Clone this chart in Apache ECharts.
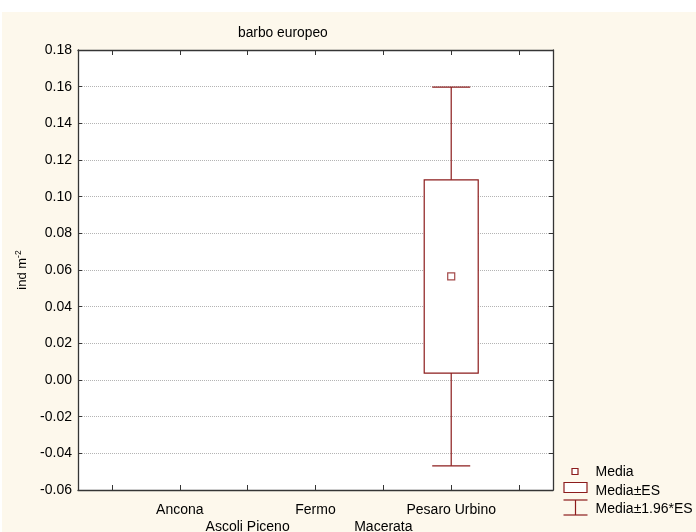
<!DOCTYPE html>
<html>
<head>
<meta charset="utf-8">
<script src="https://cdn.jsdelivr.net/npm/echarts@6/dist/echarts.min.js"></script>
<style>
  html, body { margin: 0; padding: 0; background: #ffffff; }
  #chart { width: 696px; height: 532px; }
</style>
</head>
<body>
<div id="chart"></div>
<script>
// Province names along the x axis
const categories = ['Ancona', 'Ascoli Piceno', 'Fermo', 'Macerata', 'Pesaro Urbino'];
// Mean density (ind m^-2) per province; null where no barbel was recorded
const meanValues = [null, null, null, null, 0.0565];
// Mean ± standard error
const seLow = [null, null, null, null, 0.0038];
const seHigh = [null, null, null, null, 0.1092];
// Mean ± 1.96 * standard error
const ciLow = [null, null, null, null, -0.0468];
const ciHigh = [null, null, null, null, 0.1598];
// Y axis range and step
const yMin = -0.06, yMax = 0.18, yStep = 0.02;

const RED = '#8c1c1c';
const FONT = 'Liberation Sans, Arial, sans-serif';

// Axis slots: one blank slot on each side of the provinces
const axisSlots = [''].concat(categories, ['']);
const offset = 1;

const boxData = categories.map((c, i) => [i + offset, seLow[i], seHigh[i]]).filter(d => d[1] != null);
const whiskerData = categories.map((c, i) => [i + offset, ciLow[i], ciHigh[i]]).filter(d => d[1] != null);
const meanData = categories.map((c, i) => [i + offset, meanValues[i]]).filter(d => d[1] != null);

const chart = echarts.init(document.getElementById('chart'));

const commonY = {
  type: 'value', min: yMin, max: yMax, interval: yStep,
  axisLine: { show: true, onZero: false, lineStyle: { color: '#353535', width: 1.3 } },
  axisTick: { show: true, inside: true, length: 4, lineStyle: { color: '#353535', width: 1 } }
};

const commonX = {
  type: 'category', data: axisSlots, boundaryGap: true,
  axisLine: { show: true, onZero: false, lineStyle: { color: '#353535', width: 1.3 } },
  axisTick: { show: true, inside: true, length: 5, interval: 0, alignWithLabel: true, lineStyle: { color: '#353535', width: 1 } },
  splitLine: { show: false }
};

chart.setOption({
  backgroundColor: 'transparent',
  animation: false,
  textStyle: { fontFamily: FONT },
  title: {
    text: 'barbo europeo', left: 238, top: 26, padding: 0,
    textStyle: { fontSize: 13.8, fontWeight: 'normal', color: '#000', fontFamily: FONT }
  },
  grid: {
    left: 78, top: 50, width: 475, height: 440, containLabel: false, outerBoundsMode: 'none',
    show: true, backgroundColor: '#ffffff', borderWidth: 0
  },
  xAxis: [Object.assign({}, commonX, {
    position: 'bottom',
    axisLabel: {
      interval: 0, margin: 11, color: '#000', fontSize: 14, lineHeight: 17.5, fontFamily: FONT,
      formatter: (v, idx) => (idx % 2 === 0 ? '\n' + v : v)
    }
  }), Object.assign({}, commonX, {
    position: 'top', axisLabel: { show: false }
  })],
  yAxis: [Object.assign({}, commonY, {
    position: 'left',
    name: '{a|ind m}{s|-2}', nameLocation: 'middle', nameGap: 47, nameRotate: 90,
    nameTextStyle: {
      color: '#000', fontFamily: FONT,
      rich: {
        a: { fontSize: 13, color: '#000', fontFamily: FONT },
        s: { fontSize: 8.5, color: '#000', fontFamily: FONT, verticalAlign: 'top', padding: [0, 0, 8, 0] }
      }
    },
    axisLabel: { color: '#000', fontSize: 14, margin: 6, fontFamily: FONT, formatter: v => v.toFixed(2) },
    splitLine: { show: true, lineStyle: { color: '#b4b4b4', type: [1, 1], width: 1 } }
  }), Object.assign({}, commonY, {
    position: 'right', axisLabel: { show: false }, splitLine: { show: false }
  })],
  graphic: [{
    type: 'rect', z: -100, silent: true,
    shape: { x: 2, y: 12, width: 694, height: 520 },
    style: { fill: '#fdf8ec' }
  }, {
    type: 'group', left: 561, top: 465, silent: true,
    children: [
      { type: 'rect', shape: { x: 8.5, y: 2.5, width: 6, height: 6 }, style: { fill: '#fff', stroke: RED, lineWidth: 1.2 } },
      { type: 'text', x: 32, y: 6, style: { text: 'Media', fontSize: 14, fontFamily: FONT, fill: '#000', verticalAlign: 'middle' } },
      { type: 'rect', shape: { x: 0.5, y: 16.5, width: 23, height: 10 }, style: { fill: '#fff', stroke: RED, lineWidth: 1.2 } },
      { type: 'text', x: 32, y: 25, style: { text: 'Media±ES', fontSize: 14, fontFamily: FONT, fill: '#000', verticalAlign: 'middle' } },
      { type: 'line', shape: { x1: 0, y1: 34, x2: 24, y2: 34 }, style: { stroke: RED, lineWidth: 1.2 } },
      { type: 'line', shape: { x1: 12, y1: 34, x2: 12, y2: 49 }, style: { stroke: RED, lineWidth: 1.2 } },
      { type: 'line', shape: { x1: 0, y1: 49, x2: 24, y2: 49 }, style: { stroke: RED, lineWidth: 1.2 } },
      { type: 'text', x: 32, y: 43, style: { text: 'Media±1.96*ES', fontSize: 14, fontFamily: FONT, fill: '#000', verticalAlign: 'middle' } }
    ]
  }],
  series: [{
    name: 'Media±1.96*ES', type: 'custom', data: whiskerData,
    renderItem: (params, api) => {
      const top = api.coord([api.value(0), api.value(2)]);
      const bot = api.coord([api.value(0), api.value(1)]);
      const half = 19;
      const st = { stroke: RED, lineWidth: 1.2 };
      return {
        type: 'group', children: [
          { type: 'line', shape: { x1: top[0], y1: top[1], x2: bot[0], y2: bot[1] }, style: st },
          { type: 'line', shape: { x1: top[0] - half, y1: top[1], x2: top[0] + half, y2: top[1] }, style: st },
          { type: 'line', shape: { x1: bot[0] - half, y1: bot[1], x2: bot[0] + half, y2: bot[1] }, style: st }
        ]
      };
    },
    z: 2
  }, {
    name: 'Media±ES', type: 'custom', data: boxData,
    renderItem: (params, api) => {
      const top = api.coord([api.value(0), api.value(2)]);
      const bot = api.coord([api.value(0), api.value(1)]);
      const half = 27;
      return {
        type: 'rect',
        shape: { x: top[0] - half, y: top[1], width: half * 2, height: bot[1] - top[1] },
        style: { fill: '#ffffff', stroke: RED, lineWidth: 1.2 }
      };
    },
    z: 3
  }, {
    name: 'Media', type: 'scatter', data: meanData,
    symbol: 'rect', symbolSize: 7,
    itemStyle: { color: '#ffffff', borderColor: RED, borderWidth: 1.2 },
    z: 4
  }]
});
</script>
</body>
</html>
